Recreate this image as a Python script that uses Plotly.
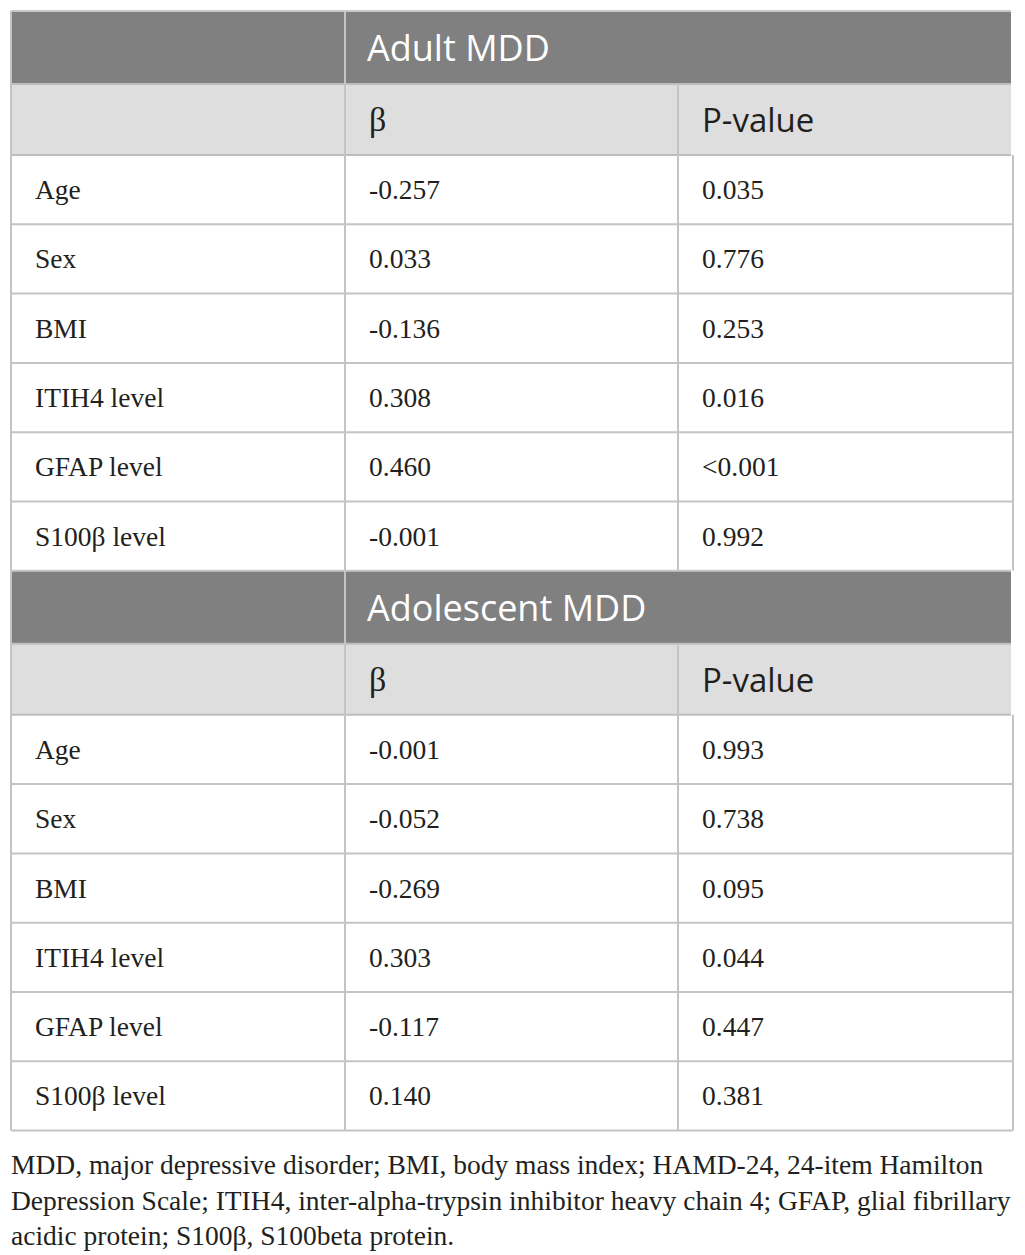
"""Regression table (Adult / Adolescent MDD) drawn as a Plotly figure."""

import plotly.graph_objects as go

variables = ["Age", "Sex", "BMI", "ITIH4 level", "GFAP level", "S100β level"]
groups = ["Adult MDD", "Adolescent MDD"]
col_headers = ["β", "P-value"]
adult_beta = ["-0.257", "0.033", "-0.136", "0.308", "0.460", "-0.001"]
adult_p = ["0.035", "0.776", "0.253", "0.016", "<0.001", "0.992"]
adolescent_beta = ["-0.001", "-0.052", "-0.269", "0.303", "-0.117", "0.140"]
adolescent_p = ["0.993", "0.738", "0.095", "0.044", "0.447", "0.381"]
footnote = [
    "MDD, major depressive disorder; BMI, body mass index; HAMD-24, 24-item Hamilton",
    "Depression Scale; ITIH4, inter-alpha-trypsin inhibitor heavy chain 4; GFAP, glial fibrillary",
    "acidic protein; S100β, S100beta protein.",
]

# ---- layout constants ----
W, H = 1025, 1255
COL_X = [11, 345, 678, 1013]
TOP = 11
GROUP_H = 73
SUB_H = 71
ROW_H = 69.3
PAD = 22
DARK = "#808080"
LIGHT = "#dedede"
LINE = "#c4c4c4"
SANS = "Open Sans"
SERIF = "Liberation Serif"

blocks = [
    (groups[0], adult_beta, adult_p),
    (groups[1], adolescent_beta, adolescent_p),
]

shapes = []
annotations = []


def rect(x0, x1, y0, y1, fill):
    shapes.append(dict(type="rect", xref="x", yref="y", x0=x0, x1=x1, y0=y0, y1=y1,
                       fillcolor=fill, line=dict(width=0), layer="below"))


def hline(y, x0=COL_X[0], x1=COL_X[-1], color=LINE, width=2):
    shapes.append(dict(type="line", xref="x", yref="y", x0=x0, x1=x1, y0=y, y1=y,
                       line=dict(color=color, width=width)))


def vline(x, y0, y1, color=LINE, width=2):
    shapes.append(dict(type="line", xref="x", yref="y", x0=x, x1=x, y0=y0, y1=y1,
                       line=dict(color=color, width=width)))


def text(x, y, s, font, size, color):
    annotations.append(dict(x=x, y=y, xref="x", yref="y", text=s, showarrow=False,
                            xanchor="left", yanchor="middle",
                            font=dict(family=font, size=size, color=color)))


y = TOP
for name, betas, pvals in blocks:
    block_top = y
    # group header (dark)
    rect(COL_X[0], COL_X[-1] - 2, y, y + GROUP_H, DARK)
    text(COL_X[1] + PAD - 2, y + GROUP_H / 2, name, SANS, 36, "white")
    hline(y, x1=COL_X[-1] - 2, color="#c8c8c8")
    y += GROUP_H
    # sub header (light)
    rect(COL_X[0], COL_X[-1] - 2, y, y + SUB_H, LIGHT)
    hline(y, x1=COL_X[-1] - 2, color="#bdbdbd")
    text(COL_X[1] + PAD, y + SUB_H / 2, col_headers[0], SERIF, 34, "#231f20")
    text(COL_X[2] + PAD, y + SUB_H / 2, col_headers[1], SANS, 33, "#231f20")
    y += SUB_H
    hline(y, x1=COL_X[-1] - 2, color="#bdbdbd")
    # body rows
    for i, var in enumerate(variables):
        cy = y + ROW_H / 2
        text(COL_X[0] + PAD, cy, var, SERIF, 27.5, "#231f20")
        text(COL_X[1] + PAD, cy, betas[i], SERIF, 27.5, "#231f20")
        text(COL_X[2] + PAD, cy, pvals[i], SERIF, 27.5, "#231f20")
        y += ROW_H
        if i < len(variables) - 1:
            hline(y)
    # vertical rules
    vline(COL_X[0], block_top, y)
    vline(COL_X[1], block_top, y)
    vline(COL_X[2], block_top + GROUP_H, y)
    vline(COL_X[3], block_top + GROUP_H + SUB_H, y)
hline(y)

# footnote
for k, line in enumerate(footnote):
    text(COL_X[0] - 2, y + 34 + k * 35.5, line, SERIF, 27.5, "#231f20")

fig = go.Figure()
fig.update_layout(
    width=W,
    height=H,
    margin=dict(l=0, r=0, t=0, b=0),
    paper_bgcolor="white",
    plot_bgcolor="white",
    xaxis=dict(range=[0, W], visible=False, fixedrange=True),
    yaxis=dict(range=[H, 0], visible=False, fixedrange=True),
    shapes=shapes,
    annotations=annotations,
    showlegend=False,
)
fig.write_html(
    "out.html",
    config={"displayModeBar": False},
    post_script="document.body.style.margin='0';document.body.style.overflow='hidden';",
)
